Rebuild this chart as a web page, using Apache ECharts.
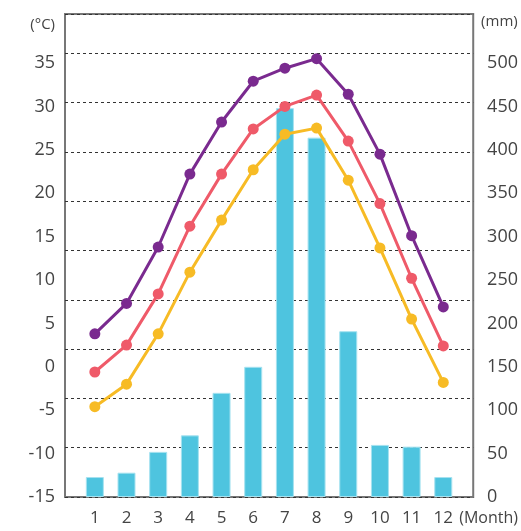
<!DOCTYPE html>
<html>
<head>
<meta charset="utf-8">
<style>
  html, body { margin: 0; padding: 0; background: #fff; }
  #main { width: 521px; height: 531px; }
</style>
<script src="https://cdn.jsdelivr.net/npm/echarts@6/dist/echarts.min.js"></script>
</head>
<body>
<div id="main"></div>
<script>
// 数据
var months = ['1', '2', '3', '4', '5', '6', '7', '8', '9', '10', '11', '12'];
var tempMax = [3.8, 7.3, 13.8, 22.2, 28.2, 32.9, 34.4, 35.5, 31.4, 24.5, 15.1, 6.9];
var tempAvg = [-0.6, 2.5, 8.4, 16.2, 22.2, 27.4, 30.0, 31.3, 26.0, 18.8, 10.2, 2.4];
var tempMin = [-4.6, -2.0, 3.8, 10.9, 16.9, 22.7, 26.8, 27.5, 21.5, 13.7, 5.5, -1.8];
var rainfall = [23, 28, 52, 71, 120, 150, 448, 414, 191, 60, 58, 23];

var myChart = echarts.init(document.getElementById('main'));
var font = 'Open Sans';
var labelColor = '#444';

var lineSeries = function (name, data, color) {
    return {
        name: name,
        type: 'line',
        xAxisIndex: 1,
        yAxisIndex: 1,
        data: data,
        symbol: 'circle',
        symbolSize: 11,
        clip: false,
        z: 5,
        lineStyle: { color: color, width: 3 },
        itemStyle: { color: color }
    };
};

var option = {
    animation: false,
    grid: [
        // 外框 + 虚线
        { left: 65, right: 41, top: 14, bottom: 34, show: true, borderColor: '#777', borderWidth: 2, backgroundColor: 'transparent' },
        // 数据区
        { left: 79, right: 54, top: 14, bottom: 34 }
    ],
    xAxis: [
        {
            gridIndex: 0, type: 'value', min: 0, max: 1,
            axisLine: { show: false }, axisTick: { show: false }, axisLabel: { show: false }, splitLine: { show: false },
            name: '(Month)',
            nameLocation: 'end',
            nameGap: -14,
            nameTextStyle: { color: labelColor, fontFamily: font, fontSize: 16, verticalAlign: 'top', padding: [13, 0, 0, 0] }
        },
        {
            gridIndex: 1,
            type: 'category',
            data: months,
            axisLine: { show: false },
            axisTick: { show: false },
            axisLabel: { color: labelColor, fontFamily: font, fontSize: 17, margin: 13 }
        }
    ],
    yAxis: [
        {
            gridIndex: 0, type: 'value', min: 0, max: 9.797, interval: 1,
            axisLine: { show: false }, axisTick: { show: false }, axisLabel: { show: false },
            splitLine: { show: true, lineStyle: { color: '#333', type: [3, 3], width: 1 } }
        },
        {
            gridIndex: 1, type: 'value', position: 'left', offset: 14,
            min: -15, max: 40.645, interval: 5,
            axisLine: { show: false }, axisTick: { show: false }, splitLine: { show: false },
            axisLabel: {
                color: labelColor, fontFamily: font, fontSize: 18, margin: 10,
                formatter: function (v) { return v > 35 ? '' : v; }
            },
            name: '(°C)',
            nameLocation: 'end',
            nameGap: -11,
            nameTextStyle: { color: labelColor, fontFamily: font, fontSize: 15, align: 'right', verticalAlign: 'middle', padding: [0, 10, 0, 0] }
        },
        {
            gridIndex: 1, type: 'value', position: 'right', offset: 13,
            min: 0, max: 556.45, interval: 50,
            axisLine: { show: false }, axisTick: { show: false }, splitLine: { show: false },
            axisLabel: {
                color: labelColor, fontFamily: font, fontSize: 18, margin: 15,
                formatter: function (v) { return v > 500 ? '' : v; }
            },
            name: '{s|}(mm)',
            nameLocation: 'end',
            nameGap: -8,
            nameTextStyle: {
                color: labelColor, fontFamily: font, fontSize: 15, align: 'left', verticalAlign: 'middle',
                rich: { s: { width: 9 } }
            }
        }
    ],
    series: [
        {
            name: 'rainfall',
            type: 'bar',
            xAxisIndex: 1,
            yAxisIndex: 2,
            data: rainfall,
            barWidth: 18,
            z: 3,
            itemStyle: { color: '#4ec4df', borderColor: '#a6e2f0', borderWidth: 1 }
        },
        lineSeries('max', tempMax, '#7a2a8f'),
        lineSeries('avg', tempAvg, '#ef5a69'),
        lineSeries('min', tempMin, '#f7bb25')
    ]
};

myChart.setOption(option);
</script>
</body>
</html>
